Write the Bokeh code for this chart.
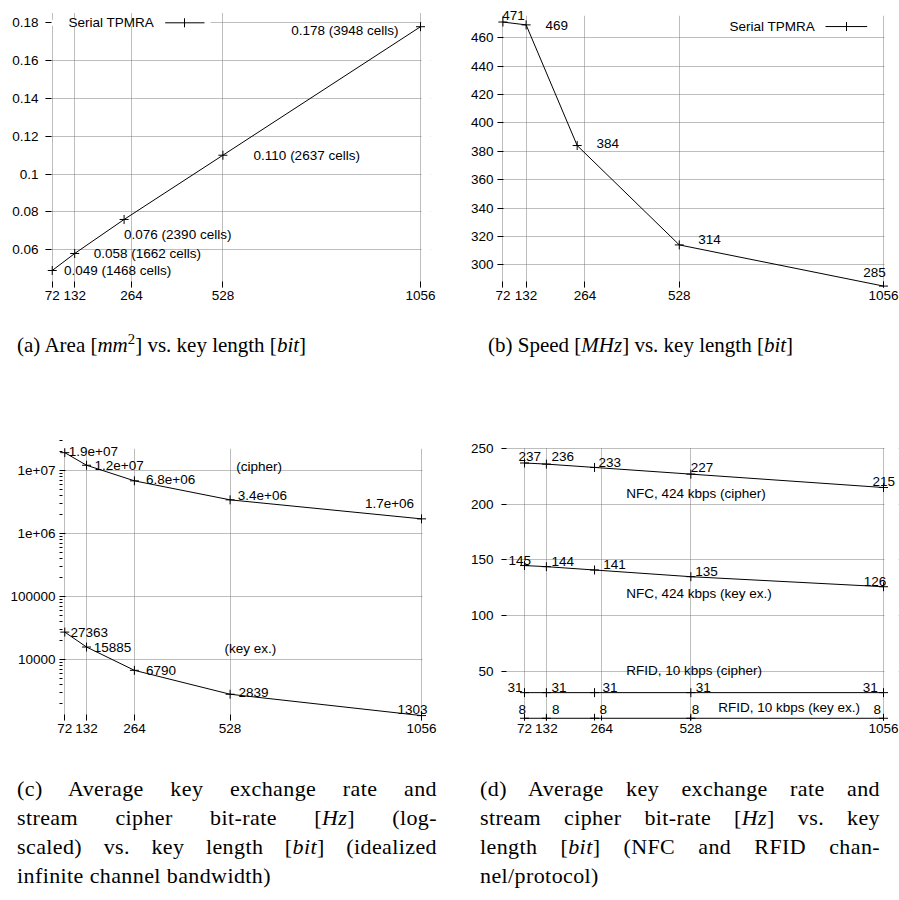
import math
from bokeh.plotting import figure
from bokeh.models import ColumnDataSource, FixedTicker, Label, LabelSet, Arrow, BoxAnnotation, Div
from bokeh.layouts import column, row
from bokeh.embed import file_html
from bokeh.resources import INLINE
from bokeh.core.properties import value

# ---------------- data ----------------
key_bits = [72, 132, 264, 528, 1056]
area_mm2 = [0.049, 0.058, 0.076, 0.110, 0.178]
area_cells = [1468, 1662, 2390, 2637, 3948]
speed_mhz = [471, 469, 384, 314, 285]
rate_cipher_hz = [1.9e7, 1.2e7, 6.8e6, 3.4e6, 1.7e6]
rate_keyex_hz = [27363, 15885, 6790, 2839, 1303]
nfc_cipher_hz = [237, 236, 233, 227, 215]
nfc_keyex_hz = [145, 144, 141, 135, 126]
rfid_cipher_hz = [31, 31, 31, 31, 31]
rfid_keyex_hz = [8, 8, 8, 8, 8]

x_ticks_abd = [72, 132, 284, 528, 1056]   # the "264" grid line sits near 284 in the original
x_ticks_c = [72, 132, 264, 528, 1056]
x_tick_labels = ["72", "132", "264", "528", "1056"]
y_ticks_a = [0.06, 0.08, 0.1, 0.12, 0.14, 0.16, 0.18]
y_tick_labels_a = ["0.06", "0.08", "0.1", "0.12", "0.14", "0.16", "0.18"]
y_ticks_b = [300, 320, 340, 360, 380, 400, 420, 440, 460]
y_ticks_c = [1e4, 1e5, 1e6, 1e7]
y_tick_labels_c = ["10000", "100000", "1e+06", "1e+07"]
y_ticks_d = [50, 100, 150, 200, 250]
legend_name = "Serial TPMRA"
series_names_c = ["(cipher)", "(key ex.)"]
series_names_d = ["NFC, 424 kbps (cipher)", "NFC, 424 kbps (key ex.)",
                  "RFID, 10 kbps (cipher)", "RFID, 10 kbps (key ex.)"]

# ---------------- style ----------------
FONT = "Liberation Sans"
FS = "13.5px"
GRID_COLOR = "#7a7a7a"


class Panel:
    """A figure whose visible plotting area is `frame` (page px) while the real
    frame is padded on top/right so that labels are not clipped."""

    def __init__(self, w, h, canvas, frame, xr, yr, ylog=False, pad_top=0, pad_right=0,
                 tick=6, ystand=5, xstand=3):
        self.ylog = ylog
        left, top, fw, fh = frame
        xr_ext = (xr[0], xr[1] + pad_right / fw * (xr[1] - xr[0]))
        if ylog:
            l0, l1 = math.log10(yr[0]), math.log10(yr[1])
            yr_ext = (yr[0], 10 ** (l1 + pad_top / fh * (l1 - l0)))
        else:
            yr_ext = (yr[0], yr[1] + pad_top / fh * (yr[1] - yr[0]))
        self.frame = (left, top - pad_top, fw + pad_right, fh + pad_top)
        self.xr, self.yr = xr_ext, yr_ext
        cx, cy = canvas
        mbl = int(round(left - cx))
        mbt = int(round(top - pad_top - cy))
        mbr = int(w - mbl - (fw + pad_right))
        mbb = int(h - mbt - (fh + pad_top))
        p = figure(width=w, height=h, x_range=xr_ext, y_range=yr_ext,
                   y_axis_type="log" if ylog else "linear",
                   output_backend="svg", toolbar_location=None, title=None,
                   min_border_left=mbl, min_border_right=mbr,
                   min_border_top=mbt, min_border_bottom=mbb)
        p.outline_line_color = None
        p.background_fill_color = "white"
        p.border_fill_color = "white"
        for ax in (p.xaxis[0], p.yaxis[0]):
            ax.axis_line_color = None
            ax.major_tick_in = tick
            ax.major_tick_out = 0
            ax.minor_tick_in = 0
            ax.minor_tick_out = 0
            ax.major_tick_line_color = "black"
            ax.major_label_text_font = FONT
            ax.major_label_text_font_size = FS
            ax.major_label_text_color = "black"
        p.xaxis.major_label_standoff = xstand
        p.yaxis.major_label_standoff = ystand
        for g in (p.xgrid[0], p.ygrid[0]):
            g.grid_line_color = GRID_COLOR
            g.grid_line_dash = "1 1"
            g.grid_line_width = 1
        self.p = p
        # white masks over the padding so that grid lines stop where the original plot ends
        if pad_top > 0:
            _, yb = self.to_data(left, top - 0.5)
            p.add_layout(BoxAnnotation(bottom=yb, fill_color="white", fill_alpha=1.0,
                                       line_color=None, level="underlay"))
        if pad_right > 0:
            xa, _ = self.to_data(left + fw + 1.0, top)
            p.add_layout(BoxAnnotation(left=xa, fill_color="white", fill_alpha=1.0,
                                       line_color=None, level="underlay"))

    def to_data(self, px, py):
        left, top, fw, fh = self.frame
        x = self.xr[0] + (px - left) / fw * (self.xr[1] - self.xr[0])
        t = (py - top) / fh
        if self.ylog:
            l0, l1 = math.log10(self.yr[0]), math.log10(self.yr[1])
            y = 10 ** (l1 - t * (l1 - l0))
        else:
            y = self.yr[1] - t * (self.yr[1] - self.yr[0])
        return x, y

    def ticks(self, xt, xl, yt, yl, yminor=None):
        p = self.p
        xtk = FixedTicker(ticks=xt)
        ytk = FixedTicker(ticks=yt, minor_ticks=yminor or [])
        p.xaxis.ticker = xtk
        p.xgrid.ticker = xtk
        p.yaxis.ticker = ytk
        p.ygrid.ticker = ytk
        p.xaxis.major_label_overrides = {t: l for t, l in zip(xt, xl)}
        p.yaxis.major_label_overrides = {t: l for t, l in zip(yt, yl)}

    def series(self, xs, ys):
        self.p.line(xs, ys, line_color="black", line_width=1)
        self.p.scatter(xs, ys, marker="cross", size=9, line_color="black", line_width=1)

    def labels(self, xs, ys, texts, dx, dy, align):
        # dy: pixels downwards
        src = ColumnDataSource(dict(x=xs, y=ys, text=texts, dx=dx,
                                    dy=[-d for d in dy], align=align))
        self.p.add_layout(LabelSet(x="x", y="y", text="text", x_offset="dx", y_offset="dy",
                                   text_align="align", text_baseline=value("middle"),
                                   text_font=value(FONT), text_font_size=value(FS),
                                   text_color=value("black"), source=src))

    def page_label(self, px, py, text):
        x, y = self.to_data(px, py)
        self.p.add_layout(Label(x=x, y=y, text=text, text_align="left", text_baseline="middle",
                                text_font=FONT, text_font_size=FS, text_color="black"))

    def key(self, text_px, l0, l1, cross_px, y_px, cover=None):
        p = self.p
        if cover is not None:
            x0, ya = self.to_data(cover[0], y_px - 3)
            x1, yb = self.to_data(cover[1], y_px + 3)
            p.add_layout(BoxAnnotation(left=x0, right=x1, bottom=yb, top=ya,
                                       fill_color="white", fill_alpha=1.0, line_color=None,
                                       level="underlay"))
        self.page_label(text_px, y_px, legend_name)
        xa, ya = self.to_data(l0, y_px)
        xb, _ = self.to_data(l1, y_px)
        p.add_layout(Arrow(x_start=xa, y_start=ya, x_end=xb, y_end=ya, end=None,
                           line_color="black", line_width=1))
        xc, yc0 = self.to_data(cross_px, y_px - 4.5)
        _, yc1 = self.to_data(cross_px, y_px + 4.5)
        p.add_layout(Arrow(x_start=xc, y_start=yc0, x_end=xc, y_end=yc1, end=None,
                           line_color="black", line_width=1))


# ---------------- (a) area ----------------
A = Panel(450, 330, (0, 0), (45, 13, 375, 274), (54, 1056), (0.04, 0.185),
          pad_top=10, pad_right=10, ystand=7)
A.ticks(x_ticks_abd, x_tick_labels, y_ticks_a, y_tick_labels_a)
A.key(68, 164.7, 204, 184, 22.3, cover=(45.5, 210))
A.series(key_bits, area_mm2)
A.labels(key_bits, area_mm2,
         [f"{v:.3f} ({c} cells)" for v, c in zip(area_mm2, area_cells)],
         [11.7, 19, 0, 30.7, -22], [0, 0, 15, 0, 3.7],
         ["left", "left", "left", "left", "right"])

# ---------------- (b) speed ----------------
B = Panel(449, 330, (450, 0), (497, 13, 386, 274), (58, 1056), (284, 475),
          pad_top=13, pad_right=14, ystand=4)
B.ticks(x_ticks_abd, x_tick_labels, y_ticks_b, [str(t) for t in y_ticks_b])
B.key(729, 825, 866.7, 846, 23.3)
B.series(key_bits, speed_mhz)
B.labels(key_bits, speed_mhz, [str(v) for v in speed_mhz],
         [-0.6, 19.3, 19.3, 19, 2.3], [-6.6, 0.7, -2, -5.4, -13.3],
         ["left", "left", "left", "left", "right"])

# ---------------- (c) log rates ----------------
minor_c = [m * 10 ** e for e in range(3, 8) for m in range(2, 10)]
C = Panel(450, 330, (0, 430), (59, 443, 362, 279), (57.4, 1056), (1090, 2.16e7),
          ylog=True, pad_top=13, pad_right=18, ystand=4)
C.ticks(x_ticks_c, x_tick_labels, y_ticks_c, y_tick_labels_c, yminor=minor_c)
C.p.yaxis.minor_tick_in = 3
C.p.yaxis.minor_tick_line_color = "black"
C.series(key_bits, rate_cipher_hz)
C.series(key_bits, rate_keyex_hz)
C.labels(key_bits, rate_cipher_hz, [f"{v:.1e}" for v in rate_cipher_hz],
         [4, 8, 11.7, 7.7, -7.4], [-1, 0, -1.7, -4.3, -15],
         ["left", "left", "left", "left", "right"])
C.labels(key_bits, rate_keyex_hz, [str(v) for v in rate_keyex_hz],
         [5.7, 7.3, 11.7, 8.3, 6], [0, 0, 0, -1.7, -6],
         ["left", "left", "left", "left", "right"])
C.page_label(235.7, 461, series_names_c[0])
C.page_label(224, 648.3, series_names_c[1])

# ---------------- (d) channel-limited rates ----------------
D = Panel(449, 330, (450, 430), (501, 448, 382, 272), (9, 1056), (6, 250),
          pad_top=12, pad_right=15, tick=5, ystand=8)
D.ticks(x_ticks_abd, x_tick_labels, y_ticks_d, [str(t) for t in y_ticks_d])
for s in (nfc_cipher_hz, nfc_keyex_hz, rfid_cipher_hz, rfid_keyex_hz):
    D.series(key_bits, s)
D.labels(key_bits, nfc_cipher_hz, [str(v) for v in nfc_cipher_hz],
         [-6, 5, 4, 0, -11], [-6.1, -7.3, -4.9, -6.6, -5.9], ["left"] * 5)
D.labels(key_bits, nfc_keyex_hz, [str(v) for v in nfc_keyex_hz],
         [-16, 5, 8.7, 4.3, -19.7], [-5.1, -5.5, -5.6, -4.8, -5.5], ["left"] * 5)
D.labels(key_bits, rfid_cipher_hz, [str(v) for v in rfid_cipher_hz],
         [-2, 5, 8, 5, -5.7], [-5] * 5, ["right", "left", "left", "left", "right"])
D.labels(key_bits, rfid_keyex_hz, [str(v) for v in rfid_keyex_hz],
         [-6, 5.7, 5, 1, -10], [-8.4] * 5, ["left"] * 5)
for (px, py), name in zip([(625.7, 492.7), (625.7, 592.7), (625.7, 670), (717.7, 706.7)],
                          series_names_d):
    D.page_label(px, py, name)

# ---------------- captions ----------------
CAP = ("font-family:'Liberation Serif',serif;line-height:29px;color:#000;")
J = "text-align:justify;text-align-last:justify;white-space:nowrap;"
SUP = "font-size:0.7em;vertical-align:0.55em;line-height:0;"


def cap_short(text, left, w):
    return Div(text=f'<div style="{CAP}font-size:21px;padding-left:{left}px;padding-top:1px;white-space:nowrap">{text}</div>',
               width=w, height=100, margin=0)


def cap_long(lines, left, w, tw):
    inner = "".join(f'<div style="{J}">{ln}</div>' for ln in lines[:-1])
    inner += f'<div style="white-space:nowrap">{lines[-1]}</div>'
    return Div(text=f'<div style="{CAP}font-size:22px;letter-spacing:0.4px;margin-left:{left}px;width:{tw}px;padding-top:14px">{inner}</div>',
               width=w, height=130, margin=0)


da = cap_short(f'(a) Area [<i>mm</i><span style="{SUP}">2</span>] vs. key length [<i>bit</i>]', 17, 450)
db = cap_short('(b) Speed [<i>MHz</i>] vs. key length [<i>bit</i>]', 38, 449)
dc = cap_long(["(c) Average key exchange rate and",
               "stream cipher bit-rate [<i>Hz</i>] (log-",
               "scaled) vs. key length [<i>bit</i>] (idealized",
               "infinite channel bandwidth)"], 17, 450, 420)
dd = cap_long(["(d) Average key exchange rate and",
               "stream cipher bit-rate [<i>Hz</i>] vs. key",
               "length [<i>bit</i>] (NFC and RFID chan-",
               "nel/protocol)"], 30, 449, 400)

layout = column(row(A.p, B.p), row(da, db), row(C.p, D.p), row(dc, dd))

open("out.html", "w").write(file_html(layout, INLINE))
